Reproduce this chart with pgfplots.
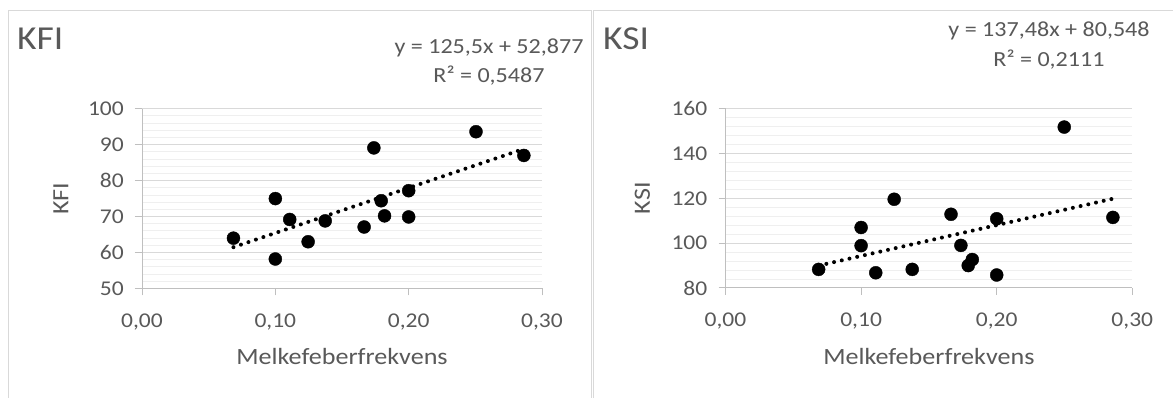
\documentclass[border=0pt]{standalone}
\usepackage{pgfplots}
\pgfplotsset{compat=1.18}
\usepackage{fontspec}
\setmainfont{Carlito}[FakeStretch=1.12]
\definecolor{txt}{HTML}{595959}
\definecolor{axgrey}{HTML}{BFBFBF}
\definecolor{gmaj}{HTML}{D9D9D9}
\definecolor{gmin}{HTML}{EFEFEF}
\definecolor{boxgrey}{HTML}{D9D9D9}

\pgfplotsset{
  mystyle/.style={
    scale only axis,
    clip=false,
    axis x line*=bottom, axis y line*=left,
    axis line style={draw=axgrey, line width=1pt},
    xmin=0, xmax=0.3, xtick={0,0.1,0.2,0.3},
    tick align=outside, major tick length=7pt, minor tick length=0pt,
    tick style={draw=axgrey, line width=1pt},
    ymajorgrids, yminorgrids, minor y tick num=4,
    major grid style={draw=gmaj, line width=1pt},
    minor grid style={draw=gmin, line width=1pt},
    /pgf/number format/assume math mode=true,
    ticklabel style={font=\fontsize{21}{25}\selectfont, text=txt, inner sep=0pt},
    xticklabel shift=18pt,
    yticklabel shift=11pt,
    xticklabel style={/pgf/number format/.cd, fixed, fixed zerofill, precision=2, use comma},
    yticklabel style={/pgf/number format/.cd, fixed, precision=0},
    xlabel style={font=\fontsize{23.3}{28}\selectfont, text=txt, at={(axis description cs:0.5,0)}, anchor=base, yshift=-76.5pt},
    ylabel style={font=\fontsize{23.3}{28}\selectfont, text=txt, anchor=base},
    xlabel={Melkefeberfrekvens},
  },
  dots/.style={only marks, mark=*, mark size=6.5pt, mark options={fill=black, draw=none}},
  trend/.style={black, line width=4pt, line cap=round, dash pattern=on 0pt off 7.9pt, no marks},
}

\begin{document}
\begin{tikzpicture}
\useasboundingbox (0,0) rectangle (1173pt,398pt);
\fill[white] (0,0) rectangle (1173pt,398pt);
% chart boxes
\draw[boxgrey, line width=1pt] (8.5pt,0pt) -- (8.5pt,387.5pt) -- (591.5pt,387.5pt) -- (591.5pt,0pt);
\draw[boxgrey, line width=1pt] (593.5pt,0pt) -- (593.5pt,387.5pt) -- (1180pt,387.5pt);

\begin{axis}[mystyle, at={(142pt,109.5pt)}, anchor=south west,
  width=400pt, height=179.8pt, ymin=50, ymax=100, ytick={50,60,...,100},
  ylabel={KFI}, ylabel style={at={(axis description cs:-0.184,0.5)}}]
\addplot[dots] table {
x y
0.0686 64.0
0.1000 75.0
0.1000 58.2
0.1108 69.2
0.1246 63.0
0.1374 68.8
0.1666 67.1
0.1739 89.1
0.1794 74.4
0.1819 70.2
0.2000 77.2
0.2000 69.9
0.2505 93.6
0.2864 87.0
};
\addplot[trend] coordinates {(0.0686,61.49) (0.2864,88.82)};
\end{axis}

\begin{axis}[mystyle, at={(725.5pt,110pt)}, anchor=south west,
  width=406.8pt, height=179.3pt, ymin=80, ymax=160, ytick={80,100,...,160},
  ylabel={KSI}, ylabel style={at={(axis description cs:-0.186,0.5)}}]
\addplot[dots] table {
x y
0.0687 88.3
0.1000 107.0
0.1000 98.9
0.1108 86.8
0.1244 119.6
0.1377 88.3
0.1663 112.9
0.1736 99.0
0.1790 90.0
0.1820 92.7
0.2000 110.9
0.2000 85.8
0.2498 151.8
0.2857 111.5
};
\addplot[trend] coordinates {(0.0687,89.99) (0.2857,119.83)};
\end{axis}

% titles
\node[anchor=base west, inner sep=0pt, font=\fontsize{33.5}{40}\selectfont, text=txt] at (17pt,348pt) {KFI};
\node[anchor=base west, inner sep=0pt, font=\fontsize{33.5}{40}\selectfont, text=txt] at (603pt,348pt) {KSI};
% equations
\node[anchor=base, inner sep=0pt, font=\fontsize{21.5}{26}\selectfont, text=txt] at (489pt,344.7pt) {y = 125,5x + 52,877};
\node[anchor=base, inner sep=0pt, font=\fontsize{21.5}{26}\selectfont, text=txt] at (489pt,315.3pt) {R² = 0,5487};
\node[anchor=base, inner sep=0pt, font=\fontsize{21.5}{26}\selectfont, text=txt] at (1049pt,361.3pt) {y = 137,48x + 80,548};
\node[anchor=base, inner sep=0pt, font=\fontsize{21.5}{26}\selectfont, text=txt] at (1049pt,331.3pt) {R² = 0,2111};
\end{tikzpicture}
\end{document}
